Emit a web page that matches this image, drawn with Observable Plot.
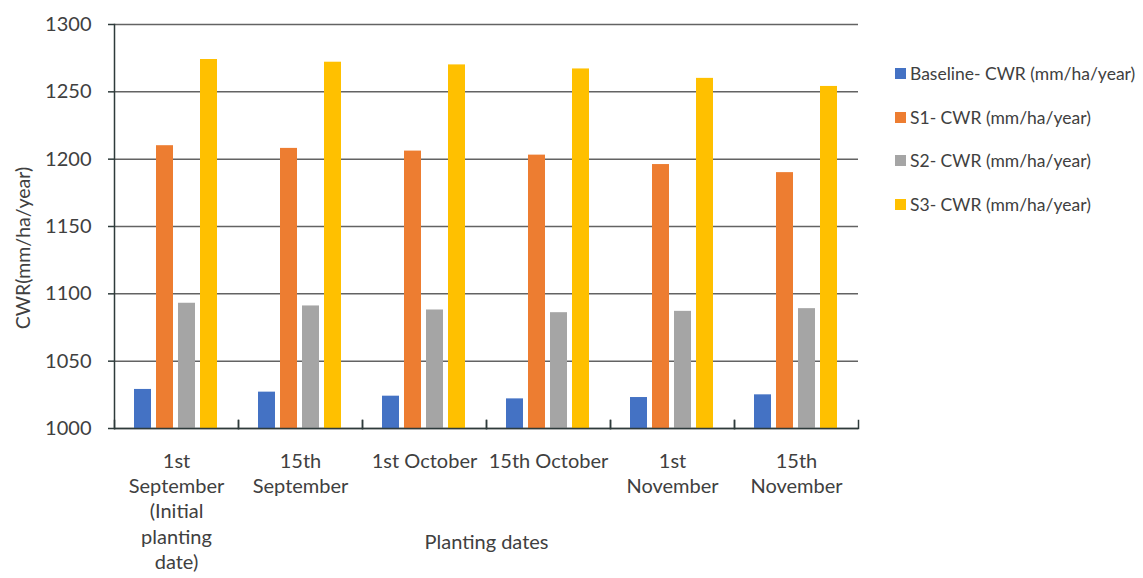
<!DOCTYPE html>
<html>
<head>
<meta charset="utf-8">
<script src="https://cdn.jsdelivr.net/npm/d3@7"></script>
<script src="https://cdn.jsdelivr.net/npm/@observablehq/plot@0.6"></script>
<style>
  body { margin: 0; background: #fff; font-family: Lato, "Open Sans", sans-serif; }
  #wrap { position: relative; width: 1143px; height: 578px; overflow: hidden; }
  #ylabel { position: absolute; left: 22px; top: 248px; transform: translate(-50%, -50%) rotate(-90deg);
            white-space: nowrap; font-size: 19.5px; color: #404040; }
  #legend { position: absolute; left: 895px; top: 52px; }
  .item { display: flex; align-items: center; height: 43.5px; font-size: 17.5px; color: #404040; white-space: nowrap; }
  .sw { width: 11px; height: 11px; margin-right: 4px; flex: none; }
</style>
</head>
<body>
<div id="wrap"></div>
<script>
// ---- data ----
const dates = ["1st September (Initial planting date)", "15th September", "1st October", "15th October", "1st November", "15th November"];
const dateLabels = ["1st\nSeptember\n(Initial\nplanting\ndate)", "15th\nSeptember", "1st October", "15th October", "1st\nNovember", "15th\nNovember"];
const series = ["Baseline- CWR (mm/ha/year)", "S1- CWR (mm/ha/year)", "S2- CWR (mm/ha/year)", "S3- CWR (mm/ha/year)"];
const colors = ["#4472C4", "#ED7D31", "#A5A5A5", "#FFC000"];
const baseline = [1029, 1027, 1024, 1022, 1023, 1025];
const s1 = [1210, 1208, 1206, 1203, 1196, 1190];
const s2 = [1093, 1091, 1088, 1086, 1087, 1089];
const s3 = [1274, 1272, 1270, 1267, 1260, 1254];
const yTicks = [1000, 1050, 1100, 1150, 1200, 1250, 1300];
const yBase = 1000;
const yLabel = "CWR(mm/ha/year)";
const xLabel = "Planting dates";

const valuesBySeries = [baseline, s1, s2, s3];
const data = dates.flatMap((d, i) => series.map((s, j) => ({date: d, series: s, value: valuesBySeries[j][i]})));

const axisColor = "#2e3b3b";
const gridColor = "#636363";

const chart = Plot.plot({
  width: 1143,
  height: 578,
  marginLeft: 113,
  marginRight: 285,
  marginTop: 24,
  marginBottom: 150,
  style: {fontFamily: "Lato, 'Open Sans', sans-serif", fontSize: "20px", color: "#404040", background: "white"},
  fx: {domain: dates, padding: 0, axis: null, label: null},
  x: {domain: series, paddingInner: 0.22, paddingOuter: 0.82, axis: null},
  y: {domain: [yTicks[0], yTicks[yTicks.length - 1]], axis: null},
  color: {domain: series, range: colors},
  marks: [
    Plot.gridY(yTicks, {stroke: gridColor, strokeOpacity: 1, strokeWidth: 1.5}),
    Plot.barY(data, {fx: "date", x: "series", y1: yBase, y2: "value", fill: "series"}),
    Plot.ruleY([yBase], {stroke: axisColor, strokeWidth: 1.5}),
    Plot.frame({anchor: "left", facetAnchor: "left", stroke: axisColor, strokeWidth: 1.5}),
    Plot.frame({anchor: "left", insetTop: 396, stroke: axisColor, strokeWidth: 1.5}),
    Plot.frame({anchor: "right", insetTop: 396, stroke: axisColor, strokeWidth: 1.5}),
    Plot.axisY(yTicks, {tickSize: 6, tickPadding: 17, stroke: axisColor, strokeWidth: 1.5, fill: "#404040",
      tickFormat: d => String(d), label: null}),
    Plot.axisFx({
      anchor: "bottom", tickSize: 0, tickPadding: 21, lineHeight: 1.27, fill: "#404040",
      tickFormat: d => dateLabels[dates.indexOf(d)],
      label: xLabel, labelAnchor: "center", labelOffset: 120, labelArrow: "none"
    })
  ]
});

const wrap = document.getElementById("wrap");
wrap.appendChild(chart);

const yl = document.createElement("div");
yl.id = "ylabel";
yl.textContent = yLabel;
wrap.appendChild(yl);

const legend = document.createElement("div");
legend.id = "legend";
series.forEach((s, j) => {
  const it = document.createElement("div");
  it.className = "item";
  const sw = document.createElement("span");
  sw.className = "sw";
  sw.style.background = colors[j];
  const tx = document.createElement("span");
  tx.textContent = s;
  it.appendChild(sw);
  it.appendChild(tx);
  legend.appendChild(it);
});
wrap.appendChild(legend);
</script>
</body>
</html>
